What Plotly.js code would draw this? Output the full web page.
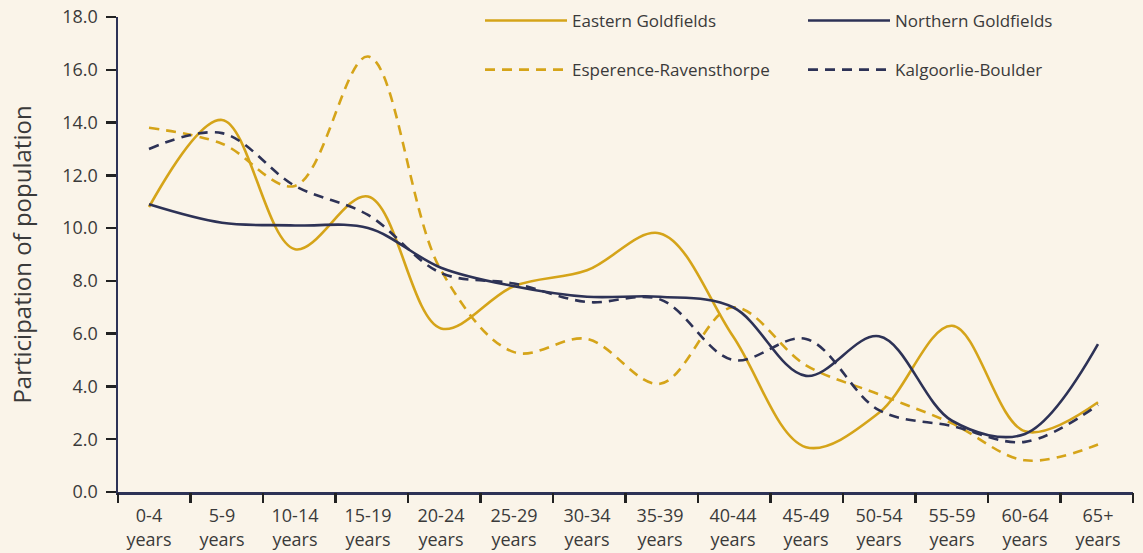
<!DOCTYPE html>
<html>
<head>
<meta charset="utf-8">
<script src="https://cdn.plot.ly/plotly-3.0.1.min.js"></script>
<style>html,body{margin:0;padding:0;background:#faf4e9;}#chart{width:1143px;height:553px;}</style>
</head>
<body>
<div id="chart"></div>
<script>
const categories = ["0-4<br>years","5-9<br>years","10-14<br>years","15-19<br>years","20-24<br>years","25-29<br>years","30-34<br>years","35-39<br>years","40-44<br>years","45-49<br>years","50-54<br>years","55-59<br>years","60-64<br>years","65+<br>years"];
const easternGoldfields = [10.8, 14.1, 9.2, 11.2, 6.2, 7.8, 8.4, 9.8, 5.9, 1.7, 3.0, 6.3, 2.3, 3.4];
const northernGoldfields = [10.9, 10.2, 10.1, 10.0, 8.5, 7.8, 7.4, 7.4, 7.0, 4.4, 5.9, 2.7, 2.2, 5.6];
const esperenceRavensthorpe = [13.8, 13.2, 11.6, 16.5, 8.4, 5.3, 5.8, 4.1, 7.0, 4.8, 3.7, 2.6, 1.2, 1.8];
const kalgoorlieBoulder = [13.0, 13.6, 11.6, 10.5, 8.3, 7.9, 7.2, 7.3, 5.0, 5.8, 3.1, 2.5, 1.9, 3.3];
const yTicks = [0, 2, 4, 6, 8, 10, 12, 14, 16, 18];

const xIdx = categories.map((c, i) => i);
const gold = '#d5a419';
const navy = '#2d3256';
const font = "'Open Sans', 'Noto Sans', sans-serif";

function tr(name, y, color, dash, legend, group) {
  return {
    type: 'scatter', mode: 'lines', name: name, x: xIdx, y: y,
    line: {color: color, width: 2.6, dash: dash, shape: 'spline', smoothing: 1},
    legend: legend, legendgroup: group, hoverinfo: 'skip'
  };
}

const data = [
  tr('Eastern Goldfields', easternGoldfields, gold, 'solid', 'legend', 'a'),
  tr('Esperence-Ravensthorpe', esperenceRavensthorpe, gold, '10px,7px', 'legend', 'b'),
  tr('Northern Goldfields', northernGoldfields, navy, 'solid', 'legend2', 'c'),
  tr('Kalgoorlie-Boulder', kalgoorlieBoulder, navy, '10px,7px', 'legend2', 'd'),
  {type: 'scatter', mode: 'none', x: [0], y: [0], xaxis: 'x2', yaxis: 'y2', showlegend: false, hoverinfo: 'skip'}
];

const boundaryTicks = categories.map((c, i) => i).concat([categories.length]);
const yMax = yTicks[yTicks.length - 1];

const legendCommon = {
  orientation: 'v', xanchor: 'left', yanchor: 'top',
  bgcolor: 'rgba(0,0,0,0)', font: {family: font, size: 17, color: '#3a3a3a'},
  tracegroupgap: 24, itemwidth: 82
};

const layout = {
  width: 1143, height: 553,
  paper_bgcolor: '#faf4e9', plot_bgcolor: '#faf4e9',
  margin: {l: 118, r: 10, t: 17, b: 61, autoexpand: false},
  font: {family: font, color: '#3a3a3a'},
  showlegend: true,
  legend: Object.assign({}, legendCommon, {x: (480 - 118) / 1015, y: 1 + 14 / 475}),
  legend2: Object.assign({}, legendCommon, {x: (803 - 118) / 1015, y: 1 + 14 / 475}),
  xaxis: {
    range: [-31 / 73, 984 / 73], tickvals: xIdx, ticktext: categories, ticks: '',
    showgrid: false, zeroline: false, showline: true, linecolor: navy, linewidth: 2.5,
    tickfont: {family: font, size: 18, color: '#3a3a3a'}, ticklabelstandoff: 6, fixedrange: true
  },
  xaxis2: {
    overlaying: 'x', range: [0, categories.length], tickvals: boundaryTicks, showticklabels: false,
    ticks: 'outside', ticklen: 10, tickwidth: 2.5, tickcolor: '#222',
    showgrid: false, zeroline: false, showline: false
  },
  yaxis: {
    range: [0, yMax], tickvals: yTicks, tickformat: '.1f', ticks: 'outside', ticklen: 10,
    tickwidth: 2.5, tickcolor: '#222', showgrid: false, zeroline: false,
    showline: true, linecolor: navy, linewidth: 2.5,
    tickfont: {family: font, size: 18, color: '#3a3a3a'}, ticklabelstandoff: 4,
    title: {text: 'Participation of population', font: {family: font, size: 24, color: '#3a3a3a'}, standoff: 24}
  },
  yaxis2: {
    overlaying: 'y', side: 'left', range: [0, yMax], tickvals: [yMax], showticklabels: false,
    ticks: 'inside', ticklen: 7, tickwidth: 2.5, tickcolor: '#222',
    showgrid: false, zeroline: false, showline: false
  }
};

Plotly.newPlot('chart', data, layout, {displayModeBar: false, staticPlot: true});
</script>
</body>
</html>
